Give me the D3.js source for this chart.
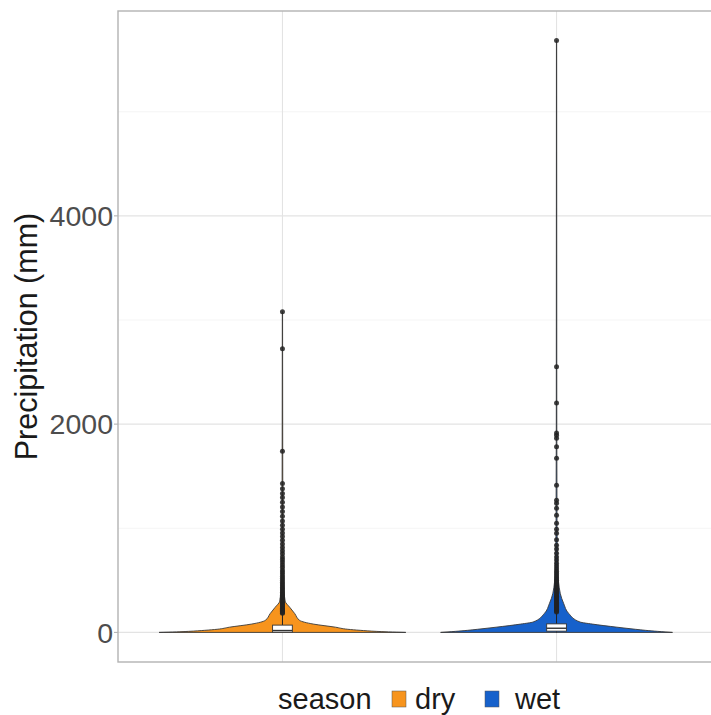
<!DOCTYPE html>
<html>
<head>
<meta charset="utf-8">
<script src="https://cdn.jsdelivr.net/npm/d3@7"></script>
<style>
  html, body { margin: 0; padding: 0; background: #fff; }
  svg { display: block; font-family: "Liberation Sans", Arial, sans-serif; }
</style>
</head>
<body>
<svg id="chart" width="711" height="715"></svg>
<script>
// Seasons and their fill colours
const seasons = ["dry", "wet"];
const seasonColors = ["#F7941D", "#1661CB"];

// Y axis ticks (mm)
const yTicks = [0, 2000, 4000];
const yMinorTicks = [1000, 3000, 5000];

// Violin density profiles: precipitation value (mm) and relative density
const dryDensityValue = [0, 5, 10, 20, 30, 50, 80, 115, 180, 240, 300, 500, 1000, 2000, 3080];
const dryDensity      = [1.0, 0.86, 0.76, 0.63, 0.53, 0.43, 0.25, 0.14, 0.10, 0.06, 0.022, 0.008, 0.003, 0.002, 0.001];
const wetDensityValue = [0, 5, 10, 20, 30, 50, 80, 100, 180, 280, 375, 600, 1000, 2000, 5683];
const wetDensity      = [0.94, 0.88, 0.82, 0.72, 0.64, 0.49, 0.29, 0.19, 0.10, 0.057, 0.03, 0.01, 0.004, 0.002, 0.001];

// Box plot summaries (mm): lower whisker, Q1, median, Q3, upper whisker
const dryBox = [0, 2, 18, 70, 175];
const wetBox = [0, 12, 40, 82, 190];

// Outlying observations (mm)
const dryOutliers = [3080, 2725, 1740, 1430, 1380, 1335, 1295, 1250, 1205, 1160, 1115, 1070, 1030, 990, 955, 920,
  885, 850, 815, 785, 755, 725, 700, 675, 650, 625, 600, 580, 560, 540, 520, 500, 482, 465, 448, 432, 416, 400,
  385, 370, 356, 342, 328, 315, 302, 290, 278, 266, 255, 244, 233, 222, 212, 202, 192, 183];
const wetOutliers = [5683, 2551, 2202, 1915, 1894, 1865, 1782, 1673, 1413, 1269, 1240, 1192, 1125, 1048, 990, 952,
  890, 837, 800, 760, 725, 695, 665, 638, 612, 588, 565, 543, 522, 502, 483, 465, 448, 432, 416, 401, 387, 373,
  360, 347, 335, 323, 312, 301, 290, 280, 270, 260, 250, 241, 232, 223, 214, 205, 197];

const densityValues = [dryDensityValue, wetDensityValue];
const densities = [dryDensity, wetDensity];
const boxes = [dryBox, wetBox];
const outliers = [dryOutliers, wetOutliers];

const svg = d3.select("#chart");
const panel = { left: 118, right: 721, top: 11, bottom: 662 };

// Discrete x positions 1..n with ggplot-style 0.6 expansion
const x = d3.scaleLinear().domain([0.4, seasons.length + 0.6]).range([panel.left, panel.right]);
const unit = x(2) - x(1);

// Continuous y with 5% expansion on both sides
const allValues = [].concat(dryOutliers, wetOutliers, dryBox, wetBox, dryDensityValue, wetDensityValue);
const [yLo, yHi] = d3.extent(allValues);
const pad = (yHi - yLo) * 0.05;
const y = d3.scaleLinear().domain([yLo - pad, yHi + pad]).range([panel.bottom, panel.top]);

// Violin half-width scale: widest density spans 0.9 of a category
const maxDensity = d3.max(densities.flat());
const w = d3.scaleLinear().domain([0, maxDensity]).range([0, unit * 0.45]);

svg.append("clipPath").attr("id", "panelClip")
  .append("rect")
  .attr("x", panel.left).attr("y", panel.top)
  .attr("width", panel.right - panel.left).attr("height", panel.bottom - panel.top);

const g = svg.append("g").attr("clip-path", "url(#panelClip)");

// Grid
g.selectAll("line.minor").data(yMinorTicks).join("line")
  .attr("x1", panel.left).attr("x2", panel.right)
  .attr("y1", d => y(d)).attr("y2", d => y(d))
  .attr("stroke", "#F2F2F2").attr("stroke-width", 0.8);
g.selectAll("line.majorY").data(yTicks).join("line")
  .attr("x1", panel.left).attr("x2", panel.right)
  .attr("y1", d => y(d)).attr("y2", d => y(d))
  .attr("stroke", "#E3E3E3").attr("stroke-width", 1.1);
g.selectAll("line.majorX").data(seasons).join("line")
  .attr("x1", (d, i) => x(i + 1)).attr("x2", (d, i) => x(i + 1))
  .attr("y1", panel.top).attr("y2", panel.bottom)
  .attr("stroke", "#E3E3E3").attr("stroke-width", 1.1);

// Violins
seasons.forEach((s, i) => {
  const cx = x(i + 1);
  const pts = densityValues[i].map((v, j) => ({ v, d: densities[i][j] }));
  const area = d3.area()
    .y(d => y(d.v))
    .x0(d => cx - w(d.d))
    .x1(d => cx + w(d.d))
    .curve(d3.curveMonotoneY);
  g.append("path")
    .attr("d", area(pts))
    .attr("fill", seasonColors[i])
    .attr("stroke", "#3a3a3a")
    .attr("stroke-width", 0.9)
    .attr("stroke-linejoin", "round");
});

// Box plots
const boxHalf = unit * 0.036;
seasons.forEach((s, i) => {
  const cx = x(i + 1);
  const [lo, q1, med, q3, hi] = boxes[i];
  g.append("line")
    .attr("x1", cx).attr("x2", cx).attr("y1", y(q3)).attr("y2", y(hi))
    .attr("stroke", "#222").attr("stroke-width", 1);
  g.append("line")
    .attr("x1", cx).attr("x2", cx).attr("y1", y(q1)).attr("y2", y(lo))
    .attr("stroke", "#222").attr("stroke-width", 1);
  g.append("rect")
    .attr("x", cx - boxHalf).attr("width", boxHalf * 2)
    .attr("y", y(q3)).attr("height", y(q1) - y(q3))
    .attr("fill", "#fff").attr("stroke", "#333").attr("stroke-width", 0.9);
  g.append("line")
    .attr("x1", cx - boxHalf).attr("x2", cx + boxHalf).attr("y1", y(med)).attr("y2", y(med))
    .attr("stroke", "#333").attr("stroke-width", 1.4);
  g.selectAll(null).data(outliers[i]).join("circle")
    .attr("cx", cx).attr("cy", d => y(d)).attr("r", 2.5)
    .attr("fill", "#222").attr("fill-opacity", 0.85);
});

// Panel border
svg.append("rect")
  .attr("x", panel.left).attr("y", panel.top)
  .attr("width", panel.right - panel.left).attr("height", panel.bottom - panel.top)
  .attr("fill", "none").attr("stroke", "#B3B3B3").attr("stroke-width", 1.4);

// Y axis ticks and labels
svg.selectAll("line.ytick").data(yTicks).join("line")
  .attr("x1", panel.left - 4).attr("x2", panel.left)
  .attr("y1", d => y(d)).attr("y2", d => y(d))
  .attr("stroke", "#B3B3B3").attr("stroke-width", 1.1);
svg.selectAll("text.ylab").data(yTicks).join("text")
  .attr("x", panel.left - 5).attr("y", d => y(d))
  .attr("dy", "0.36em")
  .attr("text-anchor", "end")
  .attr("font-size", 28.5)
  .attr("fill", "#4D4D4D")
  .text(d => d3.format("d")(d));

// Y axis title
svg.append("text")
  .attr("transform", `translate(37,${(panel.top + panel.bottom) / 2}) rotate(-90)`)
  .attr("text-anchor", "middle")
  .attr("font-size", 30.5)
  .attr("fill", "#1A1A1A")
  .text("Precipitation (mm)");

// Legend
const legend = svg.append("g").attr("transform", "translate(278,699)");
legend.append("text").attr("x", 0).attr("y", 0).attr("dy", "0.35em")
  .attr("font-size", 29).attr("fill", "#1A1A1A").text("season");
const keyX = [114, 207];
const labX = [137, 237];
seasons.forEach((s, i) => {
  legend.append("rect")
    .attr("x", keyX[i]).attr("y", -8).attr("width", 14).attr("height", 16)
    .attr("fill", seasonColors[i]).attr("stroke", "#555").attr("stroke-width", 0.5);
  legend.append("text").attr("x", labX[i]).attr("y", 0).attr("dy", "0.35em")
    .attr("font-size", 29).attr("fill", "#1A1A1A").text(s);
});
</script>
</body>
</html>
